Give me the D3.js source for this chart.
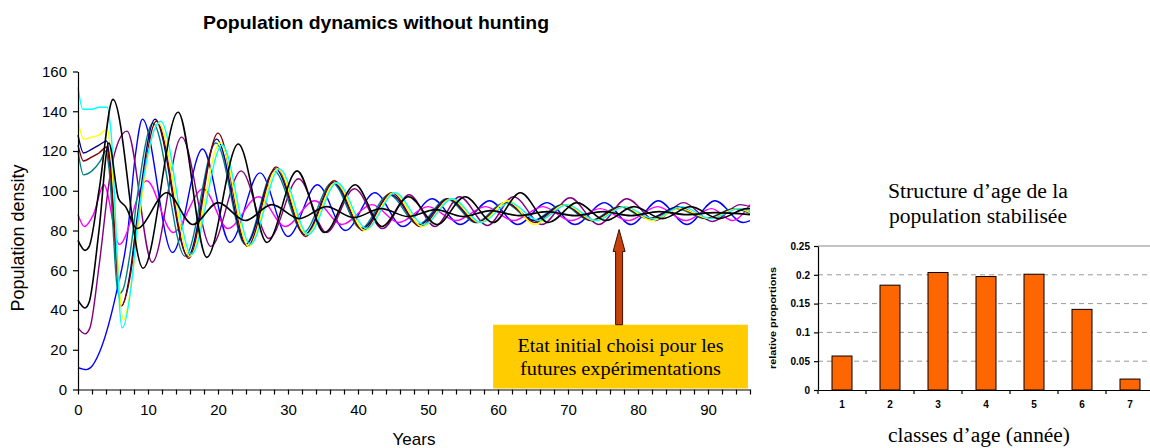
<!DOCTYPE html>
<html><head><meta charset="utf-8">
<script src="https://cdn.jsdelivr.net/npm/d3@7"></script>
<style>
html,body{margin:0;padding:0;background:#fff;}
svg{display:block;}
</style></head>
<body>
<svg id="chart" width="1150" height="448"></svg>
<script>
// ---------- DATA ([year, population density]) ----------
const cyanRun = [[0,152],[0.7,141],[2,141],[3,142],[4.2,142],[4.7,130],[6.3,31],[7.7,55],[8.4,80],[9.8,115],[11.8,135],[16.2,68],[20.6,123],[24.6,73],[28.8,111],[32.9,78],[37,104],[41.2,81],[45.3,99],[49.4,83],[53.5,96],[57.6,84],[61.7,94],[65.8,85],[69.9,93],[74,85],[78.1,92],[82.2,86],[86.3,92],[90.4,86],[94.5,91],[96,90]];
const yellowRun = [[0,135],[0.8,126],[2,127],[3,128],[4.2,131],[4.6,122],[6.5,35],[7.8,58],[8.6,82],[10,118],[11.5,134],[16,67],[20.3,124],[24.4,72],[28.5,111],[32.7,78],[36.8,104],[41,80],[45.1,99],[49.2,82],[53.3,96],[57.4,84],[61.5,95],[65.2,83],[69.6,93],[73.8,85],[78,92],[82,85],[86,91],[90.2,86],[94.2,91],[96,89]];
const navyRun = [[0,128],[0.8,119],[2,121],[3,123],[4.1,125],[4.5,117],[6.2,42],[7.5,60],[8.4,85],[11,136],[15.7,67],[19.8,126],[24,73],[28.2,111],[32.4,78],[36.5,104],[40.6,81],[44.7,98],[48.8,83],[52.9,96],[57,84],[61.1,94],[65.2,85],[69.3,93],[73.4,85],[77.5,92],[81.6,86],[85.7,92],[89.8,86],[93.9,91],[96,89]];
const maroonRun = [[0,123],[0.8,115],[2,117],[3,119],[4.1,122],[4.5,114],[6.2,42],[7.5,58],[8.5,84],[11.2,135],[15.8,66],[20,129],[24.2,72],[28.3,112],[32.5,77],[36.6,105],[40.7,80],[44.8,99],[48.9,82],[53,96],[57.1,84],[61.2,94],[65.3,84],[69.4,93],[73.5,85],[77.6,92],[81.7,86],[85.8,91],[89.9,86],[94,91],[96,89]];
const tealRun = [[0,120],[0.8,108],[2,110],[3.2,115],[4,120],[4.4,112],[5.8,48],[6.4,50],[7.5,70],[8.5,98],[10.7,134],[15.3,67],[19.7,124],[23.9,73],[28,110],[32.2,79],[36.3,104],[40.4,81],[44.4,98],[48.6,83],[52.7,96],[56.8,84],[60.9,94],[65,85],[69.1,93],[73.2,85],[77.3,92],[81.4,86],[85.5,91],[89.6,86],[93.7,91],[96,88.5]];
const magentaRun = [[0,88],[0.9,82],[2.2,88],[3.7,103],[5.9,73],[9.8,105],[13.6,79],[17.9,101],[21.4,81],[25.8,97],[29.6,82],[33.8,95],[37.7,83],[42,93],[45.8,84],[50,92],[54,85],[58.2,92],[62.2,85],[66.4,92],[70.4,85],[74.6,91],[78.6,85],[82.8,92],[86.8,85],[90.5,91],[93.5,85],[96,93]];
const blackARun = [[0,75],[1,70],[1.6,72],[3,100],[5,146],[9.3,61],[14.3,139.5],[18.4,66.5],[22.9,123.5],[27,74],[31.3,110],[35.2,79],[39.6,103],[43.4,82],[47.2,97],[51.3,83],[55.3,97],[59.3,84],[63.2,99],[67.2,84],[71.3,94],[75.4,85],[79.4,92],[83.5,86],[87.5,92],[91.6,86],[95.6,91],[96,91]];
const blackBRun = [[0,45],[1,41],[1.6,44],[3,80],[4.4,124],[5.8,96],[6.8,92],[8.4,81],[12.7,99],[16.4,83],[20,94],[23.9,85],[27.7,93],[31.6,86],[35.5,92],[39.4,86.5],[43.3,91],[47.2,87],[51.1,90.5],[55,87],[59,90],[63,87.5],[67,89.5],[71,87.5],[75,89.5],[79,87.5],[83,89.5],[87,88],[91,89],[96,88]];
const purpleRun = [[0,31],[1,28],[1.7,31],[3,62],[4.6,108],[5.8,125],[7,130],[10.6,64],[14.8,127],[19,72],[23.3,110],[27.3,76],[31.5,106],[35.5,79],[39.5,101],[43.5,81],[47.3,98],[51,82],[54.5,97],[58.5,82.5],[62.2,97],[66.3,83],[70.3,96.5],[74.4,83],[78.4,96],[82.5,85],[86.5,94],[90.6,84.5],[94.6,93],[96,92]];
const blueRun = [[0,11],[1.2,10],[1.8,11],[3.1,19],[5.5,49],[7,76],[8.2,118],[9.2,136],[13.5,69],[17.8,121],[21.7,74],[26,109],[30,77],[34.2,103],[38.2,80],[42.4,99],[46.4,82],[50.6,96],[54.6,83],[58.8,95],[62.8,83],[67,94],[71,83],[75.2,94],[79,83],[82.9,95],[87,83],[91,95],[95,84],[96,85]];

const densityTicks = [0,20,40,60,80,100,120,140,160];
const yearLabels = [0,10,20,30,40,50,60,70,80,90];
const yearMax = 96;

const ageClasses = ["1","2","3","4","5","6","7"];
const ageProportions = [0.059,0.182,0.204,0.197,0.201,0.140,0.019];
const proportionTicks = [0,0.05,0.1,0.15,0.2,0.25];

// annotation (data coordinates)
const markYear = 77.3;
const markFrom = 32.6, markTo = 80.5;
const boxYears = [59.3, 95.7];

// ---------- STYLE ----------
const series = [
  {d: blueRun, c: "#0000ff", w: 1.4},
  {d: magentaRun, c: "#ff00ff", w: 1.4},
  {d: purpleRun, c: "#800080", w: 1.4},
  {d: tealRun, c: "#008080", w: 1.4},
  {d: navyRun, c: "#000080", w: 1.4},
  {d: maroonRun, c: "#800000", w: 1.4},
  {d: yellowRun, c: "#ffff00", w: 1.4},
  {d: cyanRun, c: "#00ffff", w: 1.4},
  {d: blackBRun, c: "#000000", w: 1.6},
  {d: blackARun, c: "#000000", w: 1.6}
];

const svg = d3.select("#chart");
const sans = "'Liberation Sans', Arial, sans-serif";
const serif = "'Liberation Serif', 'Times New Roman', serif";

// ---------- LEFT CHART ----------
const x = d3.scaleLinear().domain([0, yearMax]).range([78, 750]);
const y = d3.scaleLinear().domain([0, 160]).range([389.5, 71.5]);

svg.append("text").attr("x", 376).attr("y", 29).attr("text-anchor", "middle")
  .style("font-family", sans).style("font-weight", "bold").style("font-size", "19px")
  .attr("textLength", 346).attr("lengthAdjust", "spacingAndGlyphs")
  .text("Population dynamics without hunting");

const line = d3.line().x(p => x(p[0])).y(p => y(p[1])).curve(d3.curveMonotoneX);
const lg = svg.append("g");
series.forEach(s => {
  lg.append("path").attr("d", line(s.d)).attr("fill", "none")
    .attr("stroke", s.c).attr("stroke-width", s.w).attr("stroke-linejoin", "round");
});

// annotation box + arrow
svg.append("rect")
  .attr("x", x(boxYears[0])).attr("y", y(markFrom))
  .attr("width", x(boxYears[1]) - x(boxYears[0])).attr("height", y(0) - 1 - y(markFrom))
  .attr("fill", "#ffcc00");
const ax = x(markYear), ay1 = y(markTo), ay0 = y(markFrom);
svg.append("path")
  .attr("d", `M${ax},${ay1} L${ax+6},${ay1+22} L${ax+3.5},${ay1+22} L${ax+3.5},${ay0} L${ax-3.5},${ay0} L${ax-3.5},${ay1+22} L${ax-6},${ay1+22} Z`)
  .attr("fill", "#c8400c").attr("stroke", "#3a1000").attr("stroke-width", 1);
const note = svg.append("g").style("font-family", serif).style("font-size", "19px").attr("text-anchor", "middle");
note.append("text").attr("x", (x(boxYears[0]) + x(boxYears[1])) / 2).attr("y", 352)
  .attr("textLength", 206).attr("lengthAdjust", "spacingAndGlyphs").text("Etat initial choisi pour les");
note.append("text").attr("x", (x(boxYears[0]) + x(boxYears[1])) / 2).attr("y", 375)
  .attr("textLength", 201).attr("lengthAdjust", "spacingAndGlyphs").text("futures expérimentations");

// axes
const yAxis = d3.axisLeft(y).tickValues(densityTicks).tickSize(5).tickSizeOuter(0).tickPadding(6);
const gy = svg.append("g").attr("transform", "translate(78,0)").call(yAxis);
const xAxis = d3.axisBottom(x).tickValues(d3.range(0, yearMax + 1, 2))
  .tickFormat(d => yearLabels.includes(d) ? d : "").tickSize(5).tickSizeOuter(0).tickPadding(10);
const gx = svg.append("g").attr("transform", `translate(0,${y(0)})`).call(xAxis);
[gx, gy].forEach(g => {
  g.selectAll("text").style("font-family", sans).style("font-size", "15px").attr("fill", "#000");
  g.selectAll("line,path").attr("stroke", "#000").attr("stroke-width", 1.2);
});

svg.append("text").attr("transform", "translate(24,238) rotate(-90)").attr("text-anchor", "middle")
  .style("font-family", sans).style("font-size", "18px").text("Population density");
svg.append("text").attr("x", 414).attr("y", 445).attr("text-anchor", "middle")
  .style("font-family", sans).style("font-size", "17px").text("Years");

// ---------- RIGHT CHART ----------
const xb = d3.scaleBand().domain(ageClasses).range([818, 1154]).paddingInner(28 / 48).paddingOuter(14 / 48);
const yb = d3.scaleLinear().domain([0, 0.25]).range([390, 246]);

const title = svg.append("g").style("font-family", serif).style("font-size", "20px").attr("text-anchor", "middle");
title.append("text").attr("x", 978).attr("y", 198).attr("textLength", 180).attr("lengthAdjust", "spacingAndGlyphs").text("Structure d’age de la");
title.append("text").attr("x", 978).attr("y", 223).attr("textLength", 178).attr("lengthAdjust", "spacingAndGlyphs").text("population stabilisée");

// grid
const grid = svg.append("g");
proportionTicks.filter(t => t > 0 && t < 0.25).forEach(t => {
  grid.append("line").attr("x1", 818).attr("x2", 1150).attr("y1", yb(t)).attr("y2", yb(t))
    .attr("stroke", "#999").attr("stroke-dasharray", "5,4").attr("stroke-width", 1);
});
grid.append("line").attr("x1", 818).attr("x2", 1150).attr("y1", yb(0.25)).attr("y2", yb(0.25))
  .attr("stroke", "#888").attr("stroke-width", 1);

svg.append("g").selectAll("rect").data(ageClasses).join("rect")
  .attr("x", c => xb(c)).attr("width", xb.bandwidth())
  .attr("y", (c, i) => yb(ageProportions[i])).attr("height", (c, i) => yb(0) - yb(ageProportions[i]))
  .attr("fill", "#ff6600").attr("stroke", "#000").attr("stroke-width", 1);

const gyb = svg.append("g").attr("transform", "translate(818,0)")
  .call(d3.axisLeft(yb).tickValues(proportionTicks).tickFormat(d => String(d))
    .tickSize(4).tickSizeOuter(0).tickPadding(4));
gyb.selectAll("text").style("font-family", sans).style("font-weight", "bold").style("font-size", "10px");

const gxb = svg.append("g").attr("transform", `translate(0,${yb(0)})`)
  .call(d3.axisBottom(xb).tickSize(0).tickSizeOuter(0).tickPadding(11));
gxb.selectAll("text").style("font-family", sans).style("font-weight", "bold").style("font-size", "10px");
gxb.append("g").selectAll("line").data(ageClasses).join("line")
  .attr("x1", c => xb(c) - xb.step() * 14 / 48).attr("x2", c => xb(c) - xb.step() * 14 / 48)
  .attr("y1", 0).attr("y2", 4).attr("stroke", "#000");
[gyb, gxb].forEach(g => g.selectAll("line,path").attr("stroke", "#000").attr("stroke-width", 1.2));

svg.append("text").attr("transform", "translate(776,318) rotate(-90)").attr("text-anchor", "middle")
  .style("font-family", sans).style("font-weight", "bold").style("font-size", "8.5px")
  .attr("textLength", 102).attr("lengthAdjust", "spacingAndGlyphs").text("relative proportions");
svg.append("text").attr("x", 979).attr("y", 442).attr("text-anchor", "middle")
  .style("font-family", serif).style("font-size", "20px")
  .attr("textLength", 182).attr("lengthAdjust", "spacingAndGlyphs").text("classes d’age (année)");
</script>
</body></html>
